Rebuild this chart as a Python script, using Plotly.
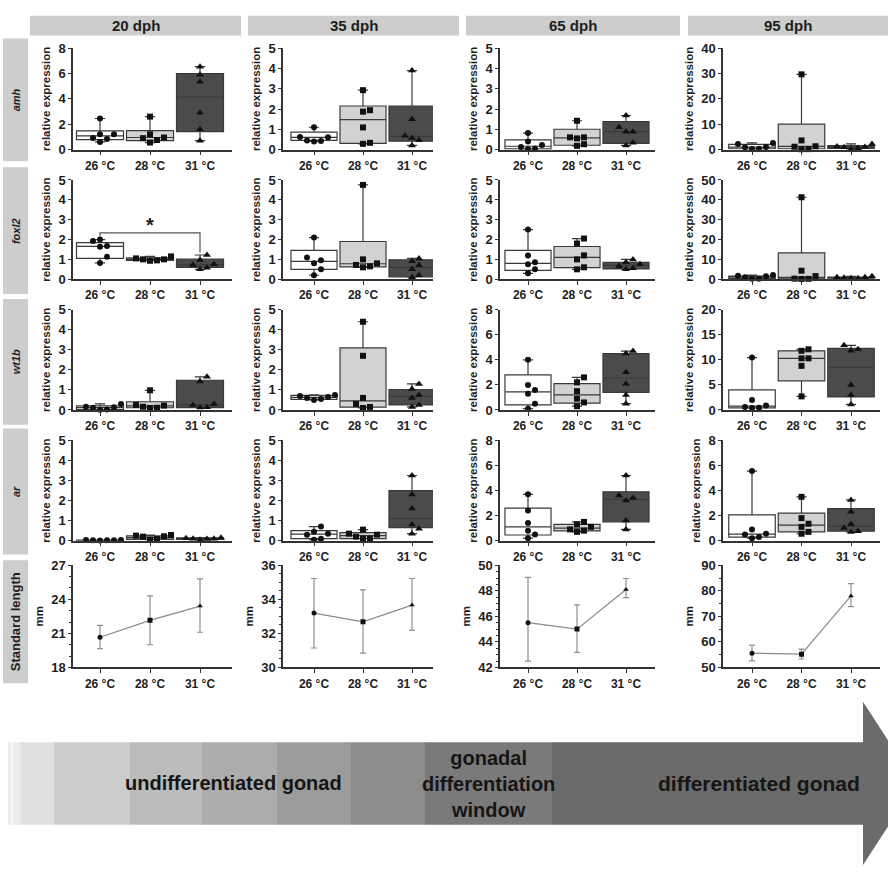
import numpy as np
import plotly.graph_objects as go

W, H = 888, 872
FONT = "Liberation Sans, Arial, sans-serif"

stages = ["20 dph", "35 dph", "65 dph", "95 dph"]
genes = ["amh", "foxl2", "wt1b", "ar"]
temps = ["26 °C", "28 °C", "31 °C"]
row_label_sl = "Standard length"
ylab_gene = "relative expression"
ylab_sl = "mm"
phase_labels = ["undifferentiated gonad", "gonadal<br>differentiation<br>window", "differentiated gonad"]

# ---------------- amh ----------------
amh_20_pts = [[1.2, 2.45, 0.83, 0.6, 1.2, 0.9], [0.95, 0.55, 0.9, 2.6, 1.2, 0.75], [6.55, 5.9, 5.35, 2.9, 1.6, 0.7]]
amh_20_box = [[0.78, 1.07, 1.47], [0.7, 0.95, 1.5], [1.42, 4.15, 6.0]]
amh_35_pts = [[1.1, 0.62, 0.42, 0.45, 0.6, 0.4], [2.93, 1.94, 1.87, 1.09, 0.28, 0.33], [3.9, 1.5, 0.57, 0.68, 0.46, 0.2]]
amh_35_box = [[0.45, 0.6, 0.86], [0.3, 1.48, 2.15], [0.41, 0.65, 2.15]]
amh_65_pts = [[0.81, 0.4, 0.02, 0.05, 0.22, 0.12], [1.42, 0.6, 0.55, 0.18, 0.26, 0.6], [1.68, 1.1, 0.88, 0.88, 0.33, 0.2]]
amh_65_box = [[0.03, 0.16, 0.48], [0.21, 0.57, 1.0], [0.3, 0.88, 1.38]]
amh_95_pts = [[2.2, 0.25, 0.9, 2.6, 0.95, 0.3], [29.7, 3.6, 1.3, 0.1, 0.15, 1.1], [2.2, 1.0, 0.9, 0.5, 0.1, 1.2]]
amh_95_box = [[0.3, 0.92, 2.0], [0.3, 1.2, 10.0], [0.4, 0.95, 1.5]]

# ---------------- foxl2 ----------------
foxl2_20_pts = [[2.0, 1.92, 1.68, 1.63, 1.13, 0.82], [1.0, 0.95, 1.05, 1.15, 1.0, 0.93], [1.22, 0.97, 0.75, 0.72, 0.58, 0.5]]
foxl2_20_box = [[1.05, 1.66, 1.84], [0.95, 1.0, 1.08], [0.6, 0.74, 1.01]]
foxl2_35_pts = [[2.1, 1.1, 0.95, 0.8, 0.5, 0.2], [4.75, 1.0, 0.8, 0.72, 0.65, 0.6], [1.05, 0.9, 0.7, 0.5, 0.2, 0.1]]
foxl2_35_box = [[0.5, 0.9, 1.45], [0.62, 0.78, 1.9], [0.12, 0.6, 0.98]]
foxl2_65_pts = [[2.5, 1.2, 0.85, 0.75, 0.5, 0.3], [2.05, 1.8, 1.2, 1.0, 0.6, 0.5], [1.0, 0.85, 0.75, 0.65, 0.55, 0.5]]
foxl2_65_box = [[0.45, 0.8, 1.45], [0.58, 1.1, 1.65], [0.52, 0.7, 0.85]]
foxl2_95_pts = [[2.1, 1.8, 1.5, 1.0, 0.3, 0.2], [41.3, 4.3, 1.6, 0.3, 0.2, 0.15], [1.5, 1.0, 1.0, 0.8, 0.5, 0.5]]
foxl2_95_box = [[0.3, 1.2, 1.6], [0.2, 0.9, 13.3], [0.5, 0.9, 1.1]]

# ---------------- wt1b ----------------
wt1b_20_pts = [[0.02, 0.16, 0.11, 0.3, 0.13, 0.01], [0.11, 0.25, 0.98, 0.16, 0.22, 0.1], [1.65, 1.42, 0.3, 0.25, 0.13, 0.12]]
wt1b_20_box = [[0.02, 0.12, 0.2], [0.11, 0.2, 0.41], [0.12, 0.27, 1.48]]
wt1b_35_pts = [[0.75, 0.7, 0.65, 0.6, 0.55, 0.5], [4.4, 2.7, 0.6, 0.3, 0.15, 0.1], [1.3, 1.05, 0.75, 0.6, 0.25, 0.15]]
wt1b_35_box = [[0.53, 0.63, 0.73], [0.14, 0.45, 3.1], [0.25, 0.68, 1.02]]
wt1b_65_pts = [[4.0, 2.0, 1.6, 1.3, 0.5, 0.1], [2.6, 2.2, 1.5, 0.9, 0.6, 0.3], [4.7, 4.5, 3.0, 2.1, 1.2, 0.5]]
wt1b_65_box = [[0.4, 1.45, 2.8], [0.55, 1.2, 2.1], [1.4, 2.55, 4.5]]
wt1b_95_pts = [[10.45, 2.0, 0.4, 0.45, 0.6, 0.9], [12.1, 11.8, 10.3, 10.3, 8.8, 2.7], [12.9, 12.1, 11.8, 5.0, 3.0, 1.1]]
wt1b_95_box = [[0.4, 0.75, 4.0], [5.8, 10.3, 11.8], [2.6, 8.5, 12.3]]

# ---------------- ar ----------------
ar_20_pts = [[0.02, 0.03, 0.02, 0.01, 0.02, 0.03], [0.2, 0.22, 0.25, 0.28, 0.05, 0.08], [0.15, 0.12, 0.1, 0.1, 0.08, 0.05]]
ar_20_box = [[0.01, 0.02, 0.03], [0.06, 0.15, 0.24], [0.06, 0.1, 0.14]]
ar_35_pts = [[0.7, 0.45, 0.35, 0.3, 0.1, 0.05], [0.55, 0.35, 0.3, 0.2, 0.1, 0.1], [3.25, 2.3, 1.6, 0.8, 0.6, 0.35]]
ar_35_box = [[0.1, 0.33, 0.5], [0.1, 0.25, 0.4], [0.65, 1.1, 2.5]]
ar_65_pts = [[3.7, 2.4, 1.4, 0.8, 0.5, 0.2], [1.5, 1.3, 1.1, 0.9, 0.8, 0.7], [5.2, 3.6, 3.4, 3.2, 1.6, 0.9]]
ar_65_box = [[0.45, 1.1, 2.6], [0.78, 1.0, 1.3], [1.5, 3.3, 3.9]]
ar_95_pts = [[5.55, 0.9, 0.55, 0.5, 0.3, 0.2], [3.5, 1.8, 1.35, 1.1, 0.7, 0.55], [3.25, 2.3, 1.3, 1.0, 0.75, 0.7]]
ar_95_box = [[0.28, 0.52, 2.05], [0.7, 1.24, 2.2], [0.75, 1.15, 2.55]]

# ---------------- standard length (mean, +err, -err) ----------------
sl_20_mean = [20.66, 22.15, 23.4]
sl_20_plus = [1.05, 2.15, 2.4]
sl_20_minus = [1.0, 2.15, 2.3]
sl_35_mean = [33.19, 32.68, 33.66]
sl_35_plus = [2.03, 1.87, 1.56]
sl_35_minus = [2.05, 1.84, 1.49]
sl_65_mean = [45.5, 45.0, 48.1]
sl_65_plus = [3.55, 1.9, 0.86]
sl_65_minus = [3.0, 1.82, 0.63]
sl_95_mean = [55.6, 55.2, 78.0]
sl_95_plus = [3.1, 2.0, 4.8]
sl_95_minus = [3.0, 1.9, 4.2]

# significance bracket foxl2, 20 dph (26 vs 31 °C)
sig_x = [0, 0, 2, 2]
sig_y = [2.17, 2.34, 2.34, 1.35]
sig_star_y = 2.75

PTS = [[amh_20_pts, amh_35_pts, amh_65_pts, amh_95_pts],
       [foxl2_20_pts, foxl2_35_pts, foxl2_65_pts, foxl2_95_pts],
       [wt1b_20_pts, wt1b_35_pts, wt1b_65_pts, wt1b_95_pts],
       [ar_20_pts, ar_35_pts, ar_65_pts, ar_95_pts]]
BOX = [[amh_20_box, amh_35_box, amh_65_box, amh_95_box],
       [foxl2_20_box, foxl2_35_box, foxl2_65_box, foxl2_95_box],
       [wt1b_20_box, wt1b_35_box, wt1b_65_box, wt1b_95_box],
       [ar_20_box, ar_35_box, ar_65_box, ar_95_box]]
SL = [(sl_20_mean, sl_20_plus, sl_20_minus), (sl_35_mean, sl_35_plus, sl_35_minus),
      (sl_65_mean, sl_65_plus, sl_65_minus), (sl_95_mean, sl_95_plus, sl_95_minus)]

# ---------------- layout constants (pixels) ----------------
col_px = [(73, 232), (283, 433), (500, 655), (723, 880)]
col_centers = [(100, 200), (314, 412), (528, 626), (752, 851)]
row_px = [(42, 145), (176, 277), (308, 410), (441, 543), (568, 672)]
gene_ymax = [[8, 5, 5, 40], [5, 5, 5, 50], [5, 5, 8, 20], [5, 5, 8, 8]]
gene_dtick = [[2, 1, 1, 10], [1, 1, 1, 10], [1, 1, 2, 5], [1, 1, 2, 2]]
sl_range = [(18, 27), (30, 36), (42, 50), (50, 90)]
sl_dtick = [3, 2, 2, 10]
sl_minor = [1, 0.5, 0.5, 5]

header_px = [(30, 241), (248, 459), (466, 680), (688, 888)]
header_y = (9, 29)
rowlab_x = (3, 28)
rowlab_px = [(32, 157), (163, 292), (297, 425), (429, 557), (563, 688)]

fills = ["#ffffff", "#d2d2d2", "#4b4b4b"]
symbols = ["circle", "square", "triangle-up"]
msize = [6, 6, 7]
AX = "#333333"
TXT = "#1e1e1e"


def fx(px):
    return px / W


def fy(py):
    return 1 - py / H


def swarm(vals, ppx, ppy, d=7.0):
    vals = np.asarray(vals, float)
    order = np.argsort(vals)
    placed = []
    offs = np.zeros(len(vals))
    cands = [0, 1, -1, 2, -2, 3, -3, 4, -4]
    for k in order:
        yk = vals[k] * ppy
        xk = 0.0
        for c in cands:
            xk = c * d
            if all((xk - xp) ** 2 + (yk - yp) ** 2 >= (d * 0.95) ** 2 for xp, yp in placed):
                break
        placed.append((xk, yk))
        offs[k] = xk / ppx
    return offs


fig = go.Figure()
layout = {}
tickfont_y = dict(family=FONT, size=13, color=TXT, weight="bold")
tickfont_x = dict(family=FONT, size=12, color=TXT, weight="bold")

for r in range(5):
    for c in range(4):
        idx = r * 4 + c + 1
        xn = "xaxis" if idx == 1 else f"xaxis{idx}"
        yn = "yaxis" if idx == 1 else f"yaxis{idx}"
        xr = "x" if idx == 1 else f"x{idx}"
        yr = "y" if idx == 1 else f"y{idx}"
        L, R = col_px[c]
        c0, c2 = col_centers[c]
        s = (c2 - c0) / 2.0
        xrange = [(L - c0) / s, (R - c0) / s]
        T, B = row_px[r]
        layout[xn] = dict(domain=[fx(L), fx(R)], range=xrange, anchor=yr,
                          tickvals=[0, 1, 2], ticktext=temps, tickfont=tickfont_x,
                          showline=True, linecolor=AX, linewidth=1.5, ticks="outside",
                          ticklen=4, tickcolor=AX, tickwidth=1.2, showgrid=False,
                          zeroline=False, fixedrange=True)
        if r < 4:
            ymin, ymax = 0, gene_ymax[r][c]
            ytitle = ylab_gene
            dt = gene_dtick[r][c]
            minor = None
        else:
            ymin, ymax = sl_range[c]
            ytitle = ylab_sl
            dt = sl_dtick[c]
            minor = dict(dtick=sl_minor[c], ticklen=2, tickcolor=AX, ticks="outside", showgrid=False)
        yax = dict(domain=[fy(B), fy(T)], range=[ymin, ymax], anchor=xr,
                   tick0=ymin, dtick=dt, tickfont=tickfont_y,
                   showline=True, linecolor=AX, linewidth=1.5, ticks="outside",
                   ticklen=3, tickcolor=AX, tickwidth=1.2, showgrid=False,
                   zeroline=False, fixedrange=True,
                   title=dict(text=ytitle, standoff=5,
                              font=dict(family=FONT, size=11.5, color=TXT, weight="bold")))
        if minor:
            yax["minor"] = minor
        layout[yn] = yax

        ppx = s
        ppy = (B - T) / (ymax - ymin)
        if r < 4:
            pts = PTS[r][c]
            box = BOX[r][c]
            for i in range(3):
                q1, med, q3 = box[i]
                lo = min(min(pts[i]), q1)
                hi = max(max(pts[i]), q3)
                fig.add_trace(go.Box(x=[i], q1=[q1], median=[med], q3=[q3],
                                     lowerfence=[lo], upperfence=[hi],
                                     fillcolor=fills[i], line=dict(color="#3a3a3a", width=1.2),
                                     width=0.94, whiskerwidth=0.22, boxpoints=False,
                                     xaxis=xr, yaxis=yr, showlegend=False, hoverinfo="skip"))
                offs = swarm(pts[i], ppx, ppy)
                fig.add_trace(go.Scatter(x=i + offs, y=pts[i], mode="markers",
                                         marker=dict(symbol=symbols[i], size=msize[i], color="#111111"),
                                         cliponaxis=False, xaxis=xr, yaxis=yr,
                                         showlegend=False, hoverinfo="skip"))
        else:
            mean, plus, minus = SL[c]
            fig.add_trace(go.Scatter(x=[0, 1, 2], y=mean, mode="lines",
                                     line=dict(color="#8a8a8a", width=1.2),
                                     error_y=dict(type="data", array=plus, arrayminus=minus,
                                                  color="#8f8f8f", thickness=1.2, width=3),
                                     xaxis=xr, yaxis=yr, showlegend=False, hoverinfo="skip"))
            for i in range(3):
                fig.add_trace(go.Scatter(x=[i], y=[mean[i]], mode="markers",
                                         marker=dict(symbol=symbols[i], size=5, color="#111111"),
                                         xaxis=xr, yaxis=yr, showlegend=False, hoverinfo="skip"))

# significance bracket (foxl2, 20 dph -> subplot 5)
fig.add_trace(go.Scatter(x=sig_x, y=sig_y, mode="lines", line=dict(color="#555555", width=1.2),
                         xaxis="x5", yaxis="y5", showlegend=False, hoverinfo="skip"))

shapes = []
annotations = []
annotations.append(dict(x=1, y=sig_star_y, xref="x5", yref="y5", text="<b>*</b>", showarrow=False,
                        xanchor="center", yanchor="middle",
                        font=dict(family=FONT, size=20, color=TXT)))


def ann(x, y, text, size, angle=0, color=TXT):
    return dict(x=x, y=y, xref="paper", yref="paper", text=text, showarrow=False,
                xanchor="center", yanchor="middle", textangle=angle,
                font=dict(family=FONT, size=size, color=color))


# headers
for c in range(4):
    L, R = header_px[c]
    shapes.append(dict(type="rect", xref="paper", yref="paper", x0=fx(L), x1=fx(R),
                       y0=fy(header_y[1]), y1=fy(header_y[0]), fillcolor="#cdcdcd",
                       line=dict(width=0), layer="below"))
    annotations.append(ann(fx((L + R) / 2), fy(sum(header_y) / 2), f"<b>{stages[c]}</b>", 15))

# row labels
row_texts = [f"<b><i>{g}</i></b>" for g in genes] + [f"<b>{row_label_sl}</b>"]
for r in range(5):
    T, B = rowlab_px[r]
    shapes.append(dict(type="rect", xref="paper", yref="paper", x0=fx(rowlab_x[0]), x1=fx(rowlab_x[1]),
                       y0=fy(B), y1=fy(T), fillcolor="#cdcdcd", line=dict(width=0), layer="below"))
    annotations.append(ann(fx(sum(rowlab_x) / 2), fy((T + B) / 2), row_texts[r],
                           11 if r < 4 else 13, angle=-90))

# bottom arrow (gradient segments)
seg_x = [8, 21, 54, 130, 202, 277, 351, 425, 552, 864]
seg_c = ["#ececec", "#e0e0e0", "#cdcdcd", "#bcbcbc", "#acacac", "#9c9c9c", "#8c8c8c", "#7a7a7a", "#6b6b6b"]
body_y = (748, 832)
for k in range(len(seg_c)):
    shapes.append(dict(type="rect", xref="paper", yref="paper", x0=fx(seg_x[k]), x1=fx(seg_x[k + 1]),
                       y0=fy(body_y[1]), y1=fy(body_y[0]), fillcolor=seg_c[k], line=dict(width=0),
                       layer="below"))
shapes.append(dict(type="line", xref="paper", yref="paper", x0=fx(12), x1=fx(12),
                   y0=fy(body_y[1]), y1=fy(body_y[0]), line=dict(color="#ffffff", width=1.5)))
head = f"M {fx(863)} {fy(707)} L {fx(916)} {fy(790)} L {fx(863)} {fy(873)} Z"
shapes.append(dict(type="path", xref="paper", yref="paper", path=head, fillcolor="#6b6b6b",
                   line=dict(width=0)))

annotations.append(ann(fx(234), fy(790), f"<b>{phase_labels[0]}</b>", 20, color="#151515"))
annotations.append(ann(fx(488), fy(791), f"<b>{phase_labels[1]}</b>", 20, color="#151515"))
annotations.append(ann(fx(759), fy(790), f"<b>{phase_labels[2]}</b>", 21, color="#151515"))

fig.update_layout(width=W, height=H, margin=dict(l=0, r=0, t=0, b=0),
                  paper_bgcolor="white", plot_bgcolor="white", showlegend=False,
                  shapes=shapes, annotations=annotations, **layout)

post = ("document.documentElement.style.margin='0';document.documentElement.style.overflow='hidden';"
        "document.body.style.margin='0';document.body.style.overflow='hidden';"
        "var g=document.getElementsByClassName('plotly-graph-div')[0];"
        "g.style.position='fixed';g.style.left='0px';g.style.top='0px';")
fig.write_html("out.html", config={"displayModeBar": False}, post_script=post)
